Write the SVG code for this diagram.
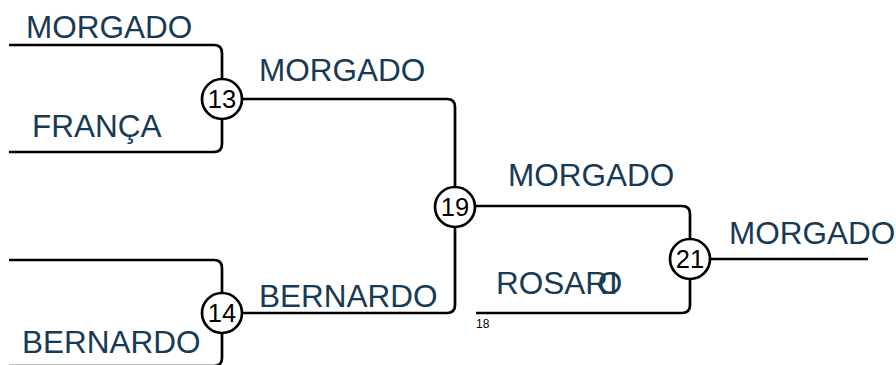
<svg xmlns="http://www.w3.org/2000/svg" width="896" height="365" viewBox="0 0 896 365">
<style>
.ln{fill:none;stroke:#000;stroke-width:2.7}
.nd circle{fill:#fff;stroke:#000;stroke-width:2.7}
.nd text{font-family:"Liberation Sans",Arial,sans-serif;font-size:25.5px;fill:#000;text-anchor:middle}
.lb{font-family:"Liberation Sans",Arial,sans-serif;font-size:31.5px;fill:#173a55}
.sm{font-family:"Liberation Sans",Arial,sans-serif;font-size:12px;fill:#000}
</style>
<rect width="896" height="365" fill="#fff"/>
<g id="connectors">
<path class="ln" d="M9,45 H214 Q222,45 222,53 V144 Q222,152 214,152 H9"/>
<path class="ln" d="M222,99 H447 Q455,99 455,107 V305 Q455,313 447,313 H222"/>
<path class="ln" d="M9,260 H214 Q222,260 222,268 V358 Q222,366 214,366 H9"/>
<path class="ln" d="M455,206 H682 Q690,206 690,214 V305 Q690,313 682,313 H476"/>
<path class="ln" d="M690,259 H868"/>
</g>
<g id="labels">
<text class="lb" x="26" y="38">MORGADO</text>
<text class="lb" x="32" y="137">FRANÇA</text>
<text class="lb" x="259" y="81">MORGADO</text>
<text class="lb" x="259" y="307">BERNARDO</text>
<text class="lb" x="22" y="353">BERNARDO</text>
<text class="lb" x="508" y="186">MORGADO</text>
<text class="lb" x="496" y="294">ROSAR<tspan dx="1">I</tspan><tspan dx="-20">O</tspan></text>
<text class="lb" x="729" y="244">MORGADO</text>
<text class="sm" x="476" y="328">18</text>
</g>
<g id="node13" class="nd"><circle cx="222" cy="99" r="20"/><text x="222" y="108">13</text></g>
<g id="node14" class="nd"><circle cx="222" cy="313" r="20"/><text x="222" y="322">14</text></g>
<g id="node19" class="nd"><circle cx="455" cy="207" r="20"/><text x="455" y="216">19</text></g>
<g id="node21" class="nd"><circle cx="690" cy="259" r="20"/><text x="690" y="268">21</text></g>
</svg>
